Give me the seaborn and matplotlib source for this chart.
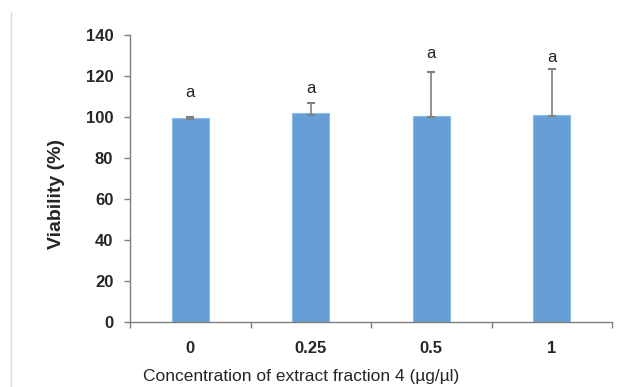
import numpy as np
import pandas as pd
import matplotlib
matplotlib.use("Agg")
import matplotlib.pyplot as plt
import seaborn as sns

# 데이터
conc = ["0", "0.25", "0.5", "1"]
viability = [99.5, 102.0, 100.5, 101.0]
err_up = [0.5, 5.0, 21.5, 22.5]
err_low = [0.6, 1.0, 0.5, 0.8]
letters = ["a", "a", "a", "a"]
letter_y = [112, 114, 131, 129]

sns.set_style("white")
plt.rcParams['font.family'] = ['Liberation Sans', 'DejaVu Sans']

df = pd.DataFrame({"conc": conc, "viability": viability})

fig = plt.figure(figsize=(6.22, 3.87), dpi=100)
ax = fig.add_axes([0.209, 0.168, 0.775, 0.742])
sns.barplot(data=df, x="conc", y="viability", color="#659fd6", width=0.31,
            saturation=1, edgecolor="#8bbbe8", linewidth=0.8, ax=ax, errorbar=None)

x = np.arange(len(conc))
ax.errorbar(x, viability, yerr=[err_low, err_up], fmt="none", ecolor="#7f7f7f",
            elinewidth=1.2, capsize=3, capthick=1.5, zorder=5)
for xi, yi, t in zip(x, letter_y, letters):
    ax.text(xi, yi, t, ha="center", va="center", fontsize=12, color="#222222")

ax.set_ylim(0, 140)
ax.set_yticks(range(0, 141, 20))
ax.set_xlim(-0.5, 3.5)
ax.set_xticks(x)
ax.set_xticklabels(conc, fontweight="bold", fontsize=12)
ax.set_xticks(np.arange(-0.5, 3.6, 1), minor=True)
ax.tick_params(axis="x", which="major", length=0, pad=14)
ax.tick_params(axis="x", which="minor", length=4, color="#7f7f7f", width=1, direction="out", bottom=True)
ax.tick_params(axis="y", length=4, color="#7f7f7f", width=1, direction="out", left=True, labelsize=12, pad=8)
for lab in ax.get_yticklabels():
    lab.set_fontweight("bold")

for s in ["top", "right"]:
    ax.spines[s].set_visible(False)
for s in ["left", "bottom"]:
    ax.spines[s].set_color("#7f7f7f")
    ax.spines[s].set_linewidth(1)

ax.set_ylabel("Viability (%)", fontweight="bold", fontsize=14)
ax.yaxis.set_label_coords(-0.135, 0.446)
ax.set_xlabel("Concentration of extract fraction 4 (µg/µl)", fontsize=12.5)
ax.xaxis.set_label_coords(0.355, -0.165)

# 왼쪽 테두리 선
fig.add_artist(plt.Line2D([0.017, 0.017], [0.0, 0.97], color="#dddddd", lw=1, transform=fig.transFigure))

fig.savefig("out.png", dpi=100)
